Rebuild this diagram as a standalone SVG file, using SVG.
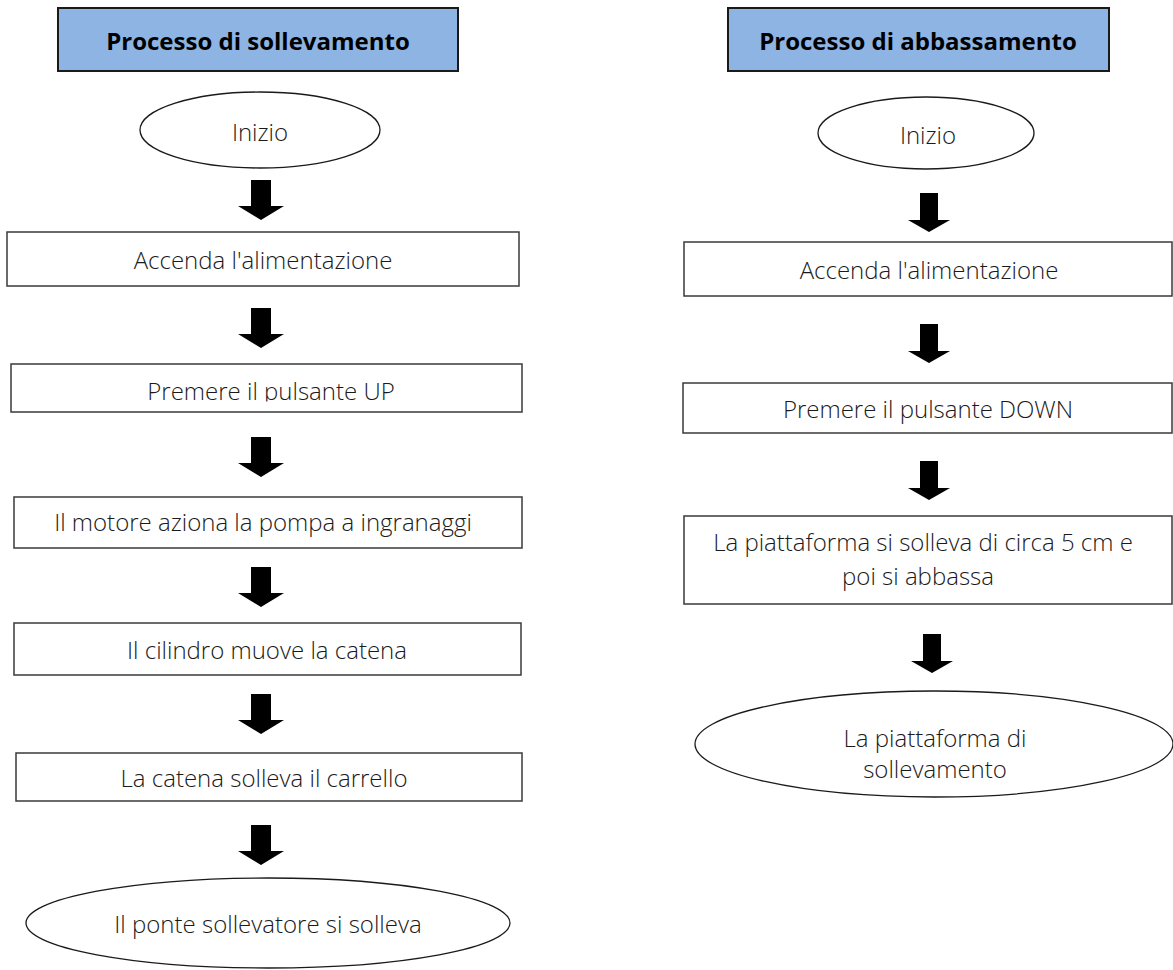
<svg xmlns="http://www.w3.org/2000/svg" width="1173" height="970" viewBox="0 0 1173 970">
<style>
.bg{fill:#ffffff}
.title{fill:#8EB4E3;stroke:#1a1a1a;stroke-width:2}
.box{fill:#ffffff;stroke:#3a3a3a;stroke-width:1.5}
.ell{fill:#ffffff;stroke:#1a1a1a;stroke-width:1.3}
.tt{font-family:"Open Sans","Liberation Sans",sans-serif;font-weight:700;font-size:24px;fill:#000;text-anchor:middle;dominant-baseline:central}
.t{font-family:"Open Sans","Liberation Sans",sans-serif;font-weight:300;font-size:24px;fill:#1a1a1a;text-anchor:middle;dominant-baseline:central}
.tb{font-family:"Open Sans","Liberation Sans",sans-serif;font-weight:300;font-size:24px;fill:#1a1a1a;text-anchor:middle}
.arr{fill:#000}
</style>
<defs>
<path id="arrL" d="M-10,0 h20 v26 h13 l-23,14 l-23,-14 h13 z"/>
<path id="arrR" d="M-9,0 h18 v27 h12 l-21,12 l-21,-12 h12 z"/>
<clipPath id="clipUP"><rect x="0" y="360" width="530" height="41.5"/></clipPath>
</defs>
<rect class="bg" x="0" y="0" width="1173" height="970"/>
<g id="connectors" class="arr">
<use href="#arrL" x="261" y="180"/>
<use href="#arrL" x="261" y="308"/>
<use href="#arrL" x="261" y="437"/>
<use href="#arrL" x="261" y="567"/>
<use href="#arrL" x="261" y="694"/>
<use href="#arrL" x="261" y="825"/>
<use href="#arrR" x="929" y="193"/>
<use href="#arrR" x="929" y="324"/>
<use href="#arrR" x="929" y="461"/>
<use href="#arrR" x="932" y="634"/>
</g>
<g id="titleL"><rect class="title" x="58" y="8" width="400" height="63"/><text class="tt" x="258" y="40">Processo di sollevamento</text></g>
<g id="startL"><ellipse class="ell" cx="260" cy="130" rx="120" ry="38"/><text class="t" x="260" y="131">Inizio</text></g>
<g id="stepL1"><rect class="box" x="7" y="232" width="512" height="54"/><text class="t" x="263" y="259">Accenda l'alimentazione</text></g>
<g id="stepL2"><rect class="box" x="11" y="364" width="511" height="48"/><text class="tb" x="271" y="400" clip-path="url(#clipUP)">Premere il pulsante UP</text></g>
<g id="stepL3"><rect class="box" x="14" y="497" width="508" height="51"/><text class="t" x="263" y="521">Il motore aziona la pompa a ingranaggi</text></g>
<g id="stepL4"><rect class="box" x="14" y="623" width="507" height="52"/><text class="t" x="267" y="649">Il cilindro muove la catena</text></g>
<g id="stepL5"><rect class="box" x="16" y="753" width="506" height="48"/><text class="t" x="264" y="777">La catena solleva il carrello</text></g>
<g id="endL"><ellipse class="ell" cx="268" cy="923" rx="242" ry="45"/><text class="t" x="268" y="923">Il ponte sollevatore si solleva</text></g>
<g id="titleR"><rect class="title" x="728" y="8" width="381" height="63"/><text class="tt" x="918" y="40">Processo di abbassamento</text></g>
<g id="startR"><ellipse class="ell" cx="926" cy="133" rx="108" ry="36"/><text class="t" x="928" y="134">Inizio</text></g>
<g id="stepR1"><rect class="box" x="684" y="242" width="488" height="54"/><text class="t" x="929" y="269">Accenda l'alimentazione</text></g>
<g id="stepR2"><rect class="box" x="683" y="383" width="489" height="50"/><text class="t" x="928" y="408">Premere il pulsante DOWN</text></g>
<g id="stepR3"><rect class="box" x="684" y="516" width="488" height="88"/><text class="t" x="923" y="541">La piattaforma si solleva di circa 5 cm e</text><text class="t" x="918" y="575">poi si abbassa</text></g>
<g id="endR"><ellipse class="ell" cx="934" cy="744" rx="239" ry="53"/><text class="t" x="935" y="737">La piattaforma di</text><text class="t" x="935" y="768">sollevamento</text></g>
</svg>
